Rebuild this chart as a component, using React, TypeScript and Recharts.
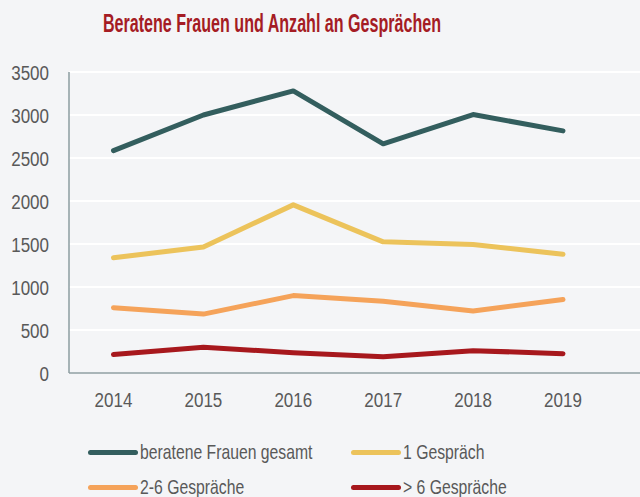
import React from "react";
import { LineChart, Line, XAxis, YAxis, CartesianGrid } from "recharts";

const years = ["2014", "2015", "2016", "2017", "2018", "2019"];
const gesamt = [2585, 3000, 3280, 2665, 3005, 2815];
const einGespraech = [1340, 1465, 1955, 1525, 1495, 1380];
const zweiBisSechs = [760, 685, 900, 835, 720, 855];
const mehrAlsSechs = [215, 300, 235, 190, 260, 225];
const yTicks = [0, 500, 1000, 1500, 2000, 2500, 3000, 3500];

const seriesNames = ["beratene Frauen gesamt", "1 Gespräch", "2-6 Gespräche", "> 6 Gespräche"];
const seriesColors = ["#335e5e", "#ecc35b", "#f5a35a", "#a7181d"];
const seriesKeys = ["gesamt", "ein", "zwei", "mehr"];

const data = years.map((y, i) => ({
  year: y,
  gesamt: gesamt[i],
  ein: einGespraech[i],
  zwei: zweiBisSechs[i],
  mehr: mehrAlsSechs[i],
}));

const FONT = "'Liberation Sans', Arial, sans-serif";
const BG = "#f4f5f7";
const TEXT = "#595959";

const legendPos = [
  { x: 88, y: 452 },
  { x: 351, y: 452 },
  { x: 88, y: 487 },
  { x: 351, y: 487 },
];

function XTick(props: any) {
  const { x, y, payload } = props;
  return (
    <text
      transform={`translate(${x},${y + 15}) scale(0.81,1)`}
      textAnchor="middle"
      fill={TEXT}
      fontSize={21}
      fontFamily={FONT}
    >
      {payload.value}
    </text>
  );
}

function YTick(props: any) {
  const { x, y, payload } = props;
  return (
    <text
      transform={`translate(${x},${y + 7.5}) scale(0.81,1)`}
      textAnchor="end"
      fill={TEXT}
      fontSize={21}
      fontFamily={FONT}
    >
      {payload.value}
    </text>
  );
}

export default function App() {
  return (
    <div style={{ position: "absolute", left: 0, top: 0, width: 640, height: 497, background: BG, overflow: "hidden" }}>
      <svg style={{ position: "absolute", left: 0, top: 0 }} width={640} height={50}>
        <text
          x={272}
          y={32}
          textAnchor="middle"
          fontFamily={FONT}
          fontWeight="bold"
          fontSize={25}
          fill="#a51c24"
          textLength={338}
          lengthAdjust="spacingAndGlyphs"
        >
          Beratene Frauen und Anzahl an Gesprächen
        </text>
      </svg>
      <div style={{ position: "absolute", left: 0, top: 0 }}>
        <LineChart width={640} height={497} data={data} margin={{ top: 72, right: 0, bottom: 94, left: 0 }}>
          <CartesianGrid horizontal vertical={false} stroke="#ffffff" strokeWidth={2} />
          <XAxis
            dataKey="year"
            height={30}
            padding={{ left: 44.5, right: 77 }}
            tickSize={0}
            tickMargin={19}
            axisLine={{ stroke: "#8c9ca0", strokeWidth: 1.5 }}
            tick={<XTick />}
            interval={0}
          />
          <YAxis
            width={69}
            domain={[0, 3500]}
            ticks={yTicks}
            tickSize={0}
            tickMargin={20}
            axisLine={{ stroke: "#8c9ca0", strokeWidth: 1.5 }}
            tick={<YTick />}
            interval={0}
          />
          {seriesKeys.map((k, i) => (
            <Line
              key={k}
              dataKey={k}
              name={seriesNames[i]}
              stroke={seriesColors[i]}
              strokeWidth={5}
              strokeLinecap="round"
              strokeLinejoin="round"
              dot={false}
              activeDot={false}
              isAnimationActive={false}
            />
          ))}
        </LineChart>
      </div>
      {seriesNames.map((n, i) => (
        <div
          key={n}
          style={{
            position: "absolute",
            left: legendPos[i].x,
            top: legendPos[i].y - 14,
            height: 28,
            display: "flex",
            alignItems: "center",
            fontFamily: FONT,
            fontSize: 21,
            color: TEXT,
            whiteSpace: "nowrap",
          }}
        >
          <span
            style={{
              display: "inline-block",
              width: 50,
              height: 5,
              borderRadius: 3,
              background: seriesColors[i],
              marginRight: 2,
              flex: "none",
            }}
          />
          <span style={{ display: "inline-block", transform: "scaleX(0.75)", transformOrigin: "left center" }}>{n}</span>
        </div>
      ))}
    </div>
  );
}
